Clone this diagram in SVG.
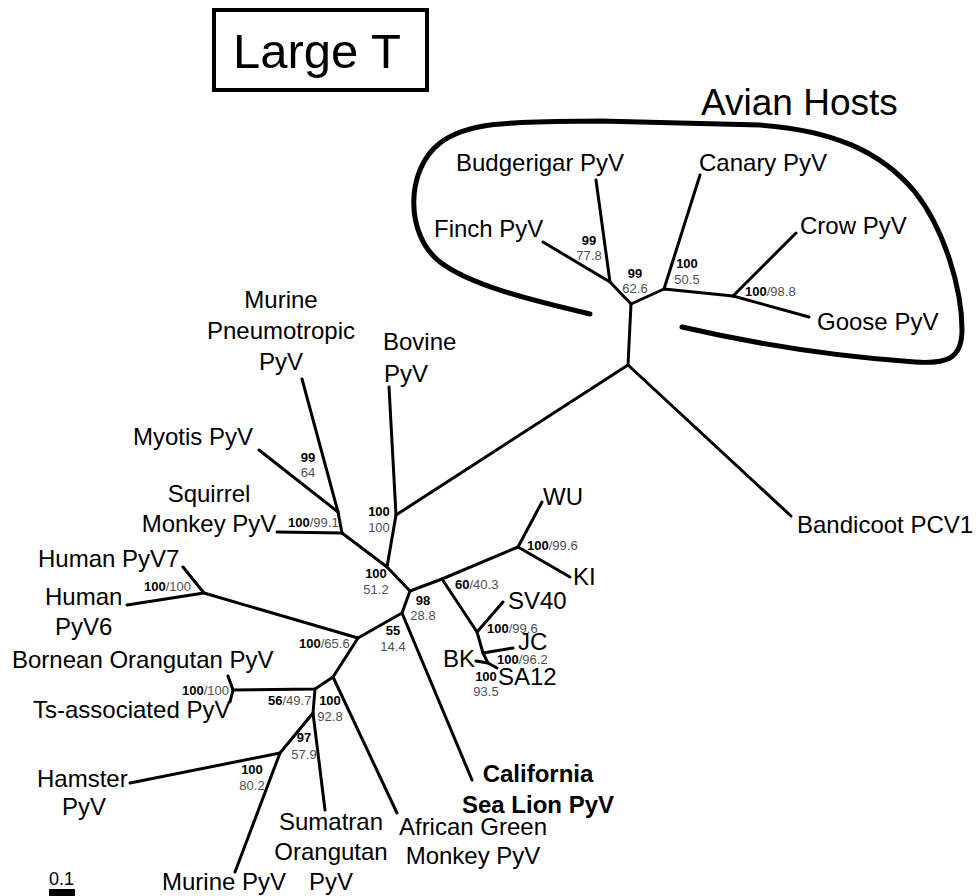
<svg xmlns="http://www.w3.org/2000/svg" width="977" height="896" viewBox="0 0 977 896">
<style>
text{font-family:"Liberation Sans",Arial,Helvetica,sans-serif;fill:#000}
.t{font-size:24px}
.tb{font-size:24px;font-weight:bold}
.s{font-size:13px}
.b{font-weight:bold;fill:#000}
.r{fill:#505050}
.m{text-anchor:middle}
.e line,.e polyline{stroke:#000;stroke-width:3;fill:none;stroke-linecap:round;stroke-linejoin:round}
</style>
<rect width="977" height="896" fill="#fff"/>
<g id="title">
<rect x="214" y="10" width="213" height="80" fill="none" stroke="#000" stroke-width="4"/>
<text x="233" y="68" style="font-size:49px">Large T</text>
</g>
<g id="avian-hosts">
<path d="M590,314 C530,300 470,285 440,262 C405,235 405,170 440,143 C470,120 520,122 600,121 L760,125 C830,130 880,150 915,192 C945,230 962,290 962,330 C962,360 945,364 915,362 C840,357 760,345 682,327" fill="none" stroke="#000" stroke-width="5" stroke-linecap="round"/>
<text x="701" y="115" style="font-size:37px">Avian Hosts</text>
</g>
<g id="connectors" class="e">
<line x1="543" y1="242" x2="610" y2="282"/>
<line x1="596" y1="180" x2="610" y2="282"/>
<polyline points="610,282 631,304 664,289 733,296"/>
<line x1="700" y1="175" x2="664" y2="289"/>
<line x1="796" y1="233" x2="733" y2="296"/>
<line x1="733" y1="296" x2="809" y2="317"/>
<line x1="631" y1="304" x2="628" y2="365"/>
<line x1="628" y1="365" x2="791" y2="516"/>
<line x1="628" y1="365" x2="396" y2="515"/>
<line x1="396" y1="515" x2="389" y2="387"/>
<polyline points="396,515 387,567 342,533 338,512 302,379"/>
<line x1="338" y1="512" x2="259" y2="450"/>
<line x1="342" y1="533" x2="277" y2="532"/>
<polyline points="387,567 410,591 442,579 518,547 542,502"/>
<line x1="518" y1="547" x2="570" y2="577"/>
<polyline points="442,579 477,632 503,602"/>
<polyline points="477,632 483,653 513,648"/>
<polyline points="483,653 488,663 476,661"/>
<line x1="488" y1="663" x2="497" y2="668"/>
<polyline points="410,591 402,613 472,780"/>
<polyline points="402,613 358,638 204,593 183,567"/>
<line x1="204" y1="593" x2="127" y2="605"/>
<polyline points="358,638 333,677 397,813"/>
<polyline points="333,677 315,689 233,690 228,676"/>
<line x1="233" y1="690" x2="230" y2="702"/>
<polyline points="315,689 313,713 325,810"/>
<polyline points="313,713 280,753 130,783"/>
<line x1="280" y1="753" x2="235" y2="872"/>
</g>
<g id="budgerigar"><text class="t" x="456" y="171">Budgerigar PyV</text></g>
<g id="canary"><text class="t" x="699" y="171">Canary PyV</text></g>
<g id="finch"><text class="t" x="434" y="237">Finch PyV</text></g>
<g id="crow"><text class="t" x="800" y="234">Crow PyV</text></g>
<g id="goose"><text class="t" x="817" y="330">Goose PyV</text></g>
<g id="bandicoot"><text class="t" x="797" y="533">Bandicoot PCV1</text></g>
<g id="murine-pneumotropic"><text class="t m" x="281" y="308">Murine</text><text class="t m" x="281" y="339">Pneumotropic</text><text class="t m" x="281" y="370">PyV</text></g>
<g id="bovine"><text class="t" x="383" y="350">Bovine</text><text class="t" x="384" y="382">PyV</text></g>
<g id="myotis"><text class="t" x="133" y="445">Myotis PyV</text></g>
<g id="squirrel-monkey"><text class="t m" x="209" y="502">Squirrel</text><text class="t m" x="209" y="532">Monkey PyV</text></g>
<g id="human-pyv7"><text class="t" x="38" y="567">Human PyV7</text></g>
<g id="human-pyv6"><text class="t" x="45" y="605">Human</text><text class="t" x="55" y="635">PyV6</text></g>
<g id="bornean"><text class="t" x="12" y="668">Bornean Orangutan PyV</text></g>
<g id="ts-associated"><text class="t" x="33" y="718">Ts-associated PyV</text></g>
<g id="hamster"><text class="t" x="37" y="787">Hamster</text><text class="t" x="62" y="815">PyV</text></g>
<g id="murine"><text class="t" x="162" y="890">Murine PyV</text></g>
<g id="sumatran"><text class="t m" x="331" y="830">Sumatran</text><text class="t m" x="331" y="860">Orangutan</text><text class="t m" x="331" y="890">PyV</text></g>
<g id="african-green"><text class="t m" x="473" y="835">African Green</text><text class="t m" x="473" y="864">Monkey PyV</text></g>
<g id="california"><text class="tb m" x="538" y="782">California</text><text class="tb m" x="538" y="813">Sea Lion PyV</text></g>
<g id="wu"><text class="t" x="543" y="505">WU</text></g>
<g id="ki"><text class="t" x="573" y="585">KI</text></g>
<g id="sv40"><text class="t" x="508" y="609">SV40</text></g>
<g id="jc"><text class="t" x="518" y="650">JC</text></g>
<g id="bk"><text class="t" x="443" y="667">BK</text></g>
<g id="sa12"><text class="t" x="498" y="685">SA12</text></g>
<g id="support-values" class="s">
<text class="s m b" x="589" y="245">99</text><text class="s m r" x="589" y="260">77.8</text>
<text class="s m b" x="635" y="278">99</text><text class="s m r" x="635" y="293">62.6</text>
<text class="s m b" x="687" y="268">100</text><text class="s m r" x="687" y="284">50.5</text>
<text class="s" x="745" y="296"><tspan class="b">100</tspan><tspan class="r">/98.8</tspan></text>
<text class="s m b" x="379" y="516">100</text><text class="s m r" x="379" y="532">100</text>
<text class="s m b" x="308" y="462">99</text><text class="s m r" x="308" y="477">64</text>
<text class="s" x="288" y="527"><tspan class="b">100</tspan><tspan class="r">/99.1</tspan></text>
<text class="s m b" x="376" y="578">100</text><text class="s m r" x="376" y="594">51.2</text>
<text class="s m b" x="423" y="605">98</text><text class="s m r" x="423" y="620">28.8</text>
<text class="s" x="455" y="589"><tspan class="b">60</tspan><tspan class="r">/40.3</tspan></text>
<text class="s" x="527" y="550"><tspan class="b">100</tspan><tspan class="r">/99.6</tspan></text>
<text class="s" x="487" y="633"><tspan class="b">100</tspan><tspan class="r">/99.6</tspan></text>
<text class="s" x="497" y="664"><tspan class="b">100</tspan><tspan class="r">/96.2</tspan></text>
<text class="s m b" x="486" y="681">100</text><text class="s m r" x="486" y="696">93.5</text>
<text class="s m b" x="393" y="635">55</text><text class="s m r" x="393" y="651">14.4</text>
<text class="s" x="299" y="648"><tspan class="b">100</tspan><tspan class="r">/65.6</tspan></text>
<text class="s" x="144" y="591"><tspan class="b">100</tspan><tspan class="r">/100</tspan></text>
<text class="s" x="182" y="695"><tspan class="b">100</tspan><tspan class="r">/100</tspan></text>
<text class="s" x="268" y="705"><tspan class="b">56</tspan><tspan class="r">/49.7</tspan></text>
<text class="s m b" x="330" y="705">100</text><text class="s m r" x="330" y="721">92.8</text>
<text class="s m b" x="304" y="742">97</text><text class="s m r" x="304" y="759">57.9</text>
<text class="s m b" x="252" y="774">100</text><text class="s m r" x="252" y="790">80.2</text>
</g>
<g id="scale-bar">
<text x="49" y="885" style="font-size:18px">0.1</text>
<rect x="49" y="889" width="26" height="7" fill="#000"/>
</g>
</svg>
